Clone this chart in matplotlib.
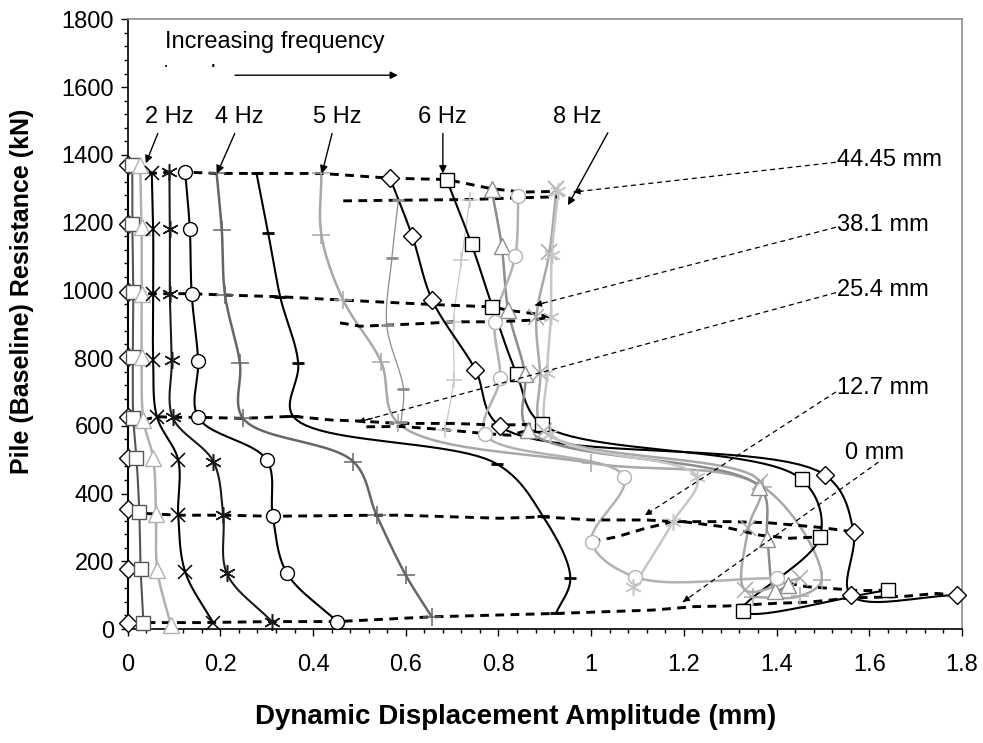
import numpy as np
import matplotlib
matplotlib.use('Agg')
import matplotlib.pyplot as plt
from matplotlib.ticker import MultipleLocator, FuncFormatter
from matplotlib.transforms import Bbox

plt.rcParams['font.family'] = ['Liberation Sans', 'DejaVu Sans']

# ---------------- data ----------------
# frequency curves: displacement amplitude (mm) vs pile resistance (kN)
s1_x = [0.0, 0.0, 0.0, 0.0, 0.0, 0.0, 0.0, 0.0, 0.0]
s1_y = [1370, 1197, 995, 803, 626, 504, 354, 176, 17]
s2_x = [0.01, 0.01, 0.012, 0.011, 0.012, 0.019, 0.025, 0.028, 0.034]
s2_y = [1369, 1197, 995, 803, 624, 504, 346, 176, 19]
s3_x = [0.027, 0.03, 0.03, 0.03, 0.034, 0.055, 0.061, 0.064, 0.093]
s3_y = [1369, 1187, 990, 803, 617, 504, 341, 174, 12]
s4_x = [0.052, 0.055, 0.055, 0.055, 0.063, 0.109, 0.109, 0.124, 0.185]
s4_y = [1345, 1182, 990, 794, 627, 499, 336, 169, 17]
s5_x = [0.09, 0.091, 0.091, 0.095, 0.097, 0.185, 0.206, 0.214, 0.311]
s5_y = [1349, 1182, 990, 794, 625, 494, 336, 164, 22]
s6_x = [0.124, 0.134, 0.138, 0.152, 0.152, 0.30, 0.313, 0.343, 0.452]
s6_y = [1349, 1182, 990, 792, 625, 499, 333, 166, 22]
s7_x = [0.192, 0.203, 0.21, 0.242, 0.249, 0.487, 0.537, 0.60, 0.656]
s7_y = [1345, 1177, 986, 786, 622, 494, 336, 159, 36]
s8_x = [0.278, 0.303, 0.329, 0.368, 0.357, 0.797, 0.895, 0.955, 0.924]
s8_y = [1345, 1170, 981, 784, 628, 487, 335, 150, 46]
s9_x = [0.418, 0.418, 0.465, 0.547, 0.584, 1.0, 1.37, 1.497, 1.45, 1.35]
s9_y = [1345, 1163, 971, 788, 607, 490, 420, 145, 97, 94]
s10_x = [0.584, 0.57, 0.559, 0.595, 0.59]
s10_y = [1266, 1094, 897, 708, 612]
s11_x = [0.738, 0.72, 0.703, 0.703, 0.685]
s11_y = [1268, 1089, 907, 735, 587]
r1_x = [0.566, 0.614, 0.657, 0.75, 0.803, 1.505, 1.566, 1.56, 1.79]
r1_y = [1331, 1160, 971, 766, 599, 454, 287, 100, 100]
r2_x = [0.688, 0.742, 0.787, 0.839, 0.893, 1.454, 1.494, 1.327, 1.641]
r2_y = [1327, 1136, 951, 754, 605, 442, 272, 54, 115]
r3_x = [0.785, 0.807, 0.821, 0.857, 0.864, 1.363, 1.38, 1.397, 1.425]
r3_y = [1300, 1130, 941, 754, 587, 420, 265, 113, 130]
r4_x = [0.843, 0.836, 0.792, 0.803, 0.771, 1.071, 1.001, 1.094, 1.40]
r4_y = [1278, 1100, 907, 740, 575, 449, 258, 154, 150]
r5_x = [0.925, 0.91, 0.882, 0.89, 0.898, 1.364, 1.339, 1.332, 1.45]
r5_y = [1298, 1112, 921, 755, 585, 435, 297, 115, 150]
r6_x = [0.929, 0.915, 0.913, 0.905, 0.911, 1.228, 1.177, 1.091]
r6_y = [1292, 1104, 921, 755, 577, 449, 317, 125]

# constant-settlement lines (thick dashed)
d44_x = [0.045, 0.052, 0.09, 0.124, 0.192, 0.278, 0.418, 0.566, 0.688, 0.785, 0.85, 0.929]
d44_y = [1350, 1345, 1349, 1349, 1345, 1345, 1345, 1331, 1327, 1300, 1290, 1292]
d44b_x = [0.465, 0.584, 0.738, 0.868, 0.926]
d44b_y = [1264, 1266, 1268, 1274, 1276]
d38_x = [0.044, 0.055, 0.091, 0.138, 0.21, 0.329, 0.465, 0.657, 0.787, 0.821, 0.882, 0.911]
d38_y = [990, 990, 990, 990, 986, 981, 971, 958, 951, 941, 930, 921]
d38b_x = [0.458, 0.501, 0.559, 0.638, 0.703, 0.792, 0.875, 0.911]
d38b_y = [904, 894, 897, 902, 907, 907, 912, 921]
d25_x = [0.034, 0.063, 0.097, 0.152, 0.249, 0.357, 0.44, 0.50, 0.584, 0.65, 0.70, 0.803, 0.893]
d25_y = [617, 627, 625, 625, 622, 628, 617, 614, 607, 607, 607, 602, 605]
d25b_x = [0.515, 0.59, 0.68, 0.771, 0.825, 0.864, 0.904]
d25b_y = [597, 598, 589, 577, 572, 587, 577]
d12_x = [0.041, 0.109, 0.206, 0.313, 0.537, 0.588, 0.803, 0.897, 1.0, 1.12, 1.177, 1.3, 1.38, 1.494, 1.566]
d12_y = [341, 336, 336, 333, 336, 336, 327, 331, 322, 322, 317, 317, 314, 300, 287]
d12b_x = [1.001, 1.055, 1.116, 1.177]
d12b_y = [258, 272, 297, 317]
d12c_x = [1.199, 1.285, 1.364, 1.428, 1.494]
d12c_y = [317, 302, 277, 268, 272]
d0_x = [0.041, 0.156, 0.311, 0.452, 0.656, 0.924, 1.134, 1.22, 1.292, 1.4, 1.465, 1.519, 1.56, 1.623, 1.68, 1.745, 1.79]
d0_y = [19, 19, 22, 22, 36, 46, 56, 66, 68, 76, 79, 86, 92, 94, 97, 105, 100]
d0b_x = [1.425, 1.465, 1.515, 1.58, 1.641]
d0b_y = [135, 125, 120, 113, 115]

freq_labels = ['2 Hz', '4 Hz', '5 Hz', '6 Hz', '8 Hz']
settle_labels = ['44.45 mm', '38.1 mm', '25.4 mm', '12.7 mm', '0 mm']

# ---------------- figure ----------------
fig = plt.figure(figsize=(9.83, 7.43), dpi=100)
ax = fig.add_axes([0.1299, 0.1534, 0.8487, 0.8206])
ax.set_xlim(0, 1.8)
ax.set_ylim(0, 1800)

# screen scale used for smoothing (Excel smooths in screen space)
PX = 463.5
PY = 610.0 / 1800.0


def _seg(P0, P1, P2, P3, n):
    def tj(ti, a, b):
        return ti + max(np.hypot(*(b - a)), 1e-6) ** 0.5
    t0 = 0.0
    t1 = tj(t0, P0, P1)
    t2 = tj(t1, P1, P2)
    t3 = tj(t2, P2, P3)
    t = np.linspace(t1, t2, n, endpoint=False)[:, None]
    A1 = (t1 - t) / (t1 - t0) * P0 + (t - t0) / (t1 - t0) * P1
    A2 = (t2 - t) / (t2 - t1) * P1 + (t - t1) / (t2 - t1) * P2
    A3 = (t3 - t) / (t3 - t2) * P2 + (t - t2) / (t3 - t2) * P3
    B1 = (t2 - t) / (t2 - t0) * A1 + (t - t0) / (t2 - t0) * A2
    B2 = (t3 - t) / (t3 - t1) * A2 + (t - t1) / (t3 - t1) * A3
    return (t2 - t) / (t2 - t1) * B1 + (t - t1) / (t2 - t1) * B2


def smooth(xs, ys, n=24):
    p = np.column_stack([np.asarray(xs, float) * PX, np.asarray(ys, float) * PY])
    if len(p) < 3:
        return np.asarray(xs), np.asarray(ys)
    ext = np.vstack([2 * p[0] - p[1], p, 2 * p[-1] - p[-2]])
    out = [_seg(ext[i - 1], ext[i], ext[i + 1], ext[i + 2], n) for i in range(1, len(ext) - 2)]
    out.append(p[-1][None, :])
    c = np.vstack(out)
    return c[:, 0] / PX, c[:, 1] / PY


ast = (6, 2, 0)
series = [
    (s1_x, s1_y, '#000000', 1.5, 'D', 9),
    (s2_x, s2_y, '#555555', 1.5, 's', 10),
    (s3_x, s3_y, '#b0b0b0', 1.8, '^', 11),
    (s4_x, s4_y, '#000000', 1.5, 'x', 10),
    (s5_x, s5_y, '#1a1a1a', 1.5, ast, 12),
    (s6_x, s6_y, '#000000', 1.5, 'o', 10),
    (s7_x, s7_y, '#666666', 1.8, '+', 13),
    (s8_x, s8_y, '#000000', 1.5, '_', 9),
    (s9_x, s9_y, '#a8a8a8', 1.8, '+', 13),
    (s10_x, s10_y, '#8c8c8c', 0.9, '_', 9),
    (s11_x, s11_y, '#c8c8c8', 0.9, '+', 11),
    (r1_x, r1_y, '#000000', 1.5, 'D', 9),
    (r2_x, r2_y, '#000000', 1.5, 's', 10),
    (r3_x, r3_y, '#8c8c8c', 1.8, '^', 11),
    (r4_x, r4_y, '#b2b2b2', 1.8, 'o', 10),
    (r5_x, r5_y, '#a8a8a8', 1.8, 'x', 11),
    (r6_x, r6_y, '#c6c6c6', 1.8, ast, 12),
]

for xs, ys, col, lw, mk, ms in series:
    sx, sy = smooth(xs, ys)
    ax.plot(sx, sy, color=col, lw=lw, zorder=3, clip_on=False, solid_capstyle='round')

dashed = [(d44_x, d44_y), (d44b_x, d44b_y), (d38_x, d38_y), (d38b_x, d38b_y),
          (d25_x, d25_y), (d25b_x, d25b_y), (d12_x, d12_y), (d12b_x, d12b_y),
          (d12c_x, d12c_y), (d0_x, d0_y), (d0b_x, d0b_y)]
for xs, ys in dashed:
    ax.plot(xs, ys, color='black', lw=2.1, ls=(0, (3.0, 2.2)), zorder=4)

for xs, ys, col, lw, mk, ms in series:
    filled = mk in ('D', 's', '^', 'o')
    ax.plot(xs, ys, ls='none', marker=mk, ms=ms,
            mfc='white' if filled else col, mec=col,
            mew=1.0 if filled else (2.0 if mk == '_' else 1.1),
            zorder=5, clip_on=False)

# thin dashed leader lines to settlement labels
label_pos = [(1.531, 1384), (1.531, 1192), (1.531, 1000), (1.531, 711), (1.548, 519)]
leader_start = [(1.528, 1378), (1.528, 1186), (1.528, 993), (1.528, 700), (1.62, 493)]
leader_end = [(0.962, 1290), (0.879, 956), (0.497, 611), (1.116, 336), (1.198, 80)]
for lab, (tx, ty), (x0, y0), (x1, y1) in zip(settle_labels, label_pos, leader_start, leader_end):
    ax.text(tx, ty, lab, fontsize=17, ha='left', va='center', zorder=6)
    ax.plot([x0, x1], [y0, y1], color='black', lw=0.9, ls=(0, (4, 3)), zorder=6)
    ax.annotate('', xy=(x1, y1), xytext=(x1 + (x0 - x1) * 0.03, y1 + (y0 - y1) * 0.03),
                arrowprops=dict(arrowstyle='-|>', color='black', lw=0.9,
                                mutation_scale=9, shrinkA=0, shrinkB=0), zorder=6)

# frequency labels with arrows
freq_pos = [(0.089, 1511), (0.24, 1511), (0.453, 1511), (0.678, 1511), (0.969, 1511)]
arr_from = [(0.065, 1463), (0.231, 1463), (0.441, 1463), (0.68, 1463), (1.036, 1465)]
arr_to = [(0.039, 1375), (0.193, 1345), (0.419, 1345), (0.68, 1345), (0.95, 1251)]
for lab, (tx, ty), a0, a1 in zip(freq_labels, freq_pos, arr_from, arr_to):
    ax.text(tx, ty, lab, fontsize=17, ha='center', va='center', zorder=6)
    ax.annotate('', xy=a1, xytext=a0,
                arrowprops=dict(arrowstyle='-|>', color='black', lw=1.0,
                                mutation_scale=11, shrinkA=0, shrinkB=0), zorder=6)

# increasing frequency trend note (second line cut off by its text box)
ax.text(0.081, 1732, 'Increasing frequency', fontsize=17, ha='left', va='center', zorder=6)
tr = fig.text(0.0, 0.0, 'trend', fontsize=17, ha='left', va='baseline', zorder=6,
              transform=ax.transData)
tr.set_position((0.075, 1618))
tr.set_clip_box(Bbox.from_extents(0, 743 - 67.0, 983, 743))
tr.set_clip_on(True)
ax.annotate('', xy=(0.583, 1635), xytext=(0.2315, 1635),
            arrowprops=dict(arrowstyle='-|>', color='black', lw=1.0,
                            mutation_scale=11, shrinkA=0, shrinkB=0))

# axes styling
ax.xaxis.set_major_locator(MultipleLocator(0.2))
ax.xaxis.set_minor_locator(MultipleLocator(0.04))
ax.yaxis.set_major_locator(MultipleLocator(200))
ax.yaxis.set_minor_locator(MultipleLocator(40))
ax.xaxis.set_major_formatter(FuncFormatter(lambda v, p: '%g' % round(v, 2)))
ax.yaxis.set_major_formatter(FuncFormatter(lambda v, p: '%d' % round(v)))
ax.tick_params(axis='both', which='major', direction='out', length=5, width=1, labelsize=17)
ax.tick_params(axis='both', which='minor', direction='out', length=3, width=1)
ax.tick_params(axis='x', which='major', pad=13)
ax.tick_params(axis='y', which='major', pad=5)
for s in ('top', 'right'):
    ax.spines[s].set_color('#8c8c8c')
    ax.spines[s].set_linewidth(1.2)
for s in ('left', 'bottom'):
    ax.spines[s].set_color('black')
    ax.spines[s].set_linewidth(1.2)

fig.text(516 / 983, 1 - 717 / 743, 'Dynamic Displacement Amplitude (mm)', fontsize=20,
         fontweight='bold', ha='center', va='center')
fig.text(22 / 983, 1 - 291 / 743, 'Pile (Baseline) Resistance (kN)', fontsize=18,
         fontweight='bold', ha='center', va='center', rotation=90)

fig.savefig('out.png', dpi=100)
